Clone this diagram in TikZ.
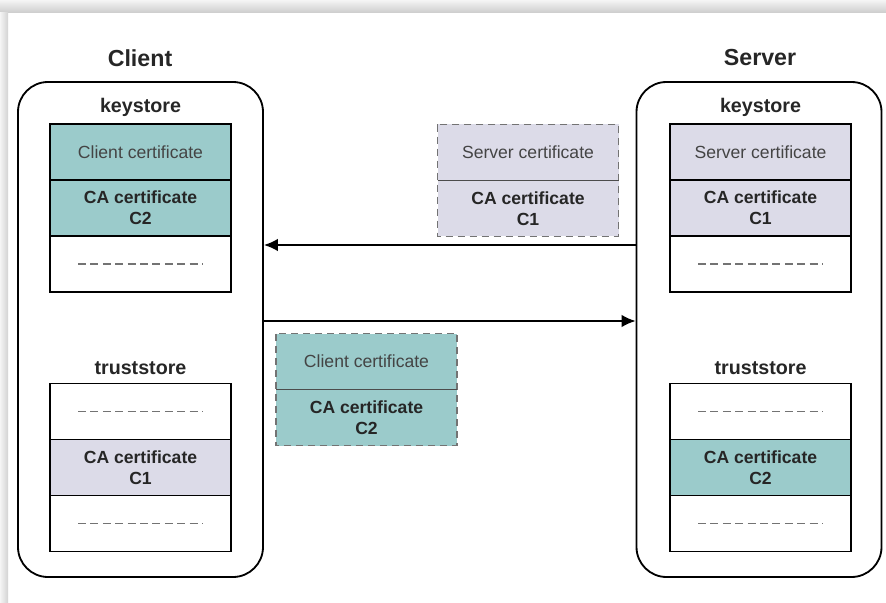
\documentclass[tikz,border=0pt]{standalone}
\usepackage{fontspec}
\setmainfont{Liberation Sans}
\usetikzlibrary{positioning,arrows.meta}

\definecolor{certteal}{RGB}{155,203,203}
\definecolor{certlila}{RGB}{220,219,232}
\definecolor{textgris}{RGB}{68,68,68}

\def\px{0.025cm}

\begin{document}
\begin{tikzpicture}[
    x=0.025cm, y=-0.025cm,
    font=\fontsize{12.5}{15}\selectfont,
    host/.style={rectangle, draw=black, line width=1.3pt, rounded corners=0.75cm, minimum width=245*\px, minimum height=495*\px, inner sep=0},
    fila/.style={rectangle, draw=black, line width=1.3pt, minimum width=181*\px, minimum height=56*\px, inner sep=0, outer sep=0, align=center},
    vacia/.style={fila, path picture={\draw[gray!90!black, line width=1.1pt, dash pattern=on 0.2cm off 0.11cm] ([xshift=0.7cm]path picture bounding box.west) -- ([xshift=-0.7cm]path picture bounding box.east);}},
    cert/.style={text=textgris},
    ca/.style={font=\fontsize{12.5}{15}\selectfont\bfseries, text=black!85},
    titulo/.style={font=\fontsize{16.5}{18}\selectfont\bfseries, text=black!85},
    almacen/.style={font=\fontsize{14}{16}\selectfont\bfseries, text=black!85},
    transito/.style={gray!90!black, line width=1.4pt, dash pattern=on 0.18cm off 0.12cm},
    flecha/.style={line width=1.3pt, -{Latex[length=10pt,width=9pt]}}
]
\useasboundingbox (0,0) rectangle (886,603);

% ============================================
% MARCO (sombra superior e izquierda)
% ============================================
\shade[top color=gray!8, bottom color=gray!40] (0,0) rectangle (886,13);
\shade[left color=gray!8, right color=gray!35] (0,13) rectangle (8,603);

% ============================================
% CLIENTE
% ============================================
\node[titulo] (ctit) at (140,58) {Client};
\node[host] (client) at (140.5,329.5) {};

% keystore del cliente
\node[almacen] (ckslab) at (140.5,107) {keystore};
\node[fila, fill=certteal, cert] (cks1) at (140.5,152) {Client certificate};
\node[fila, fill=certteal, ca, below=0pt of cks1] (cks2) {CA certificate\\C2};
\node[vacia, below=0pt of cks2] (cks3) {};

% truststore del cliente
\node[almacen] (ctrlab) at (140.5,368) {truststore};
\node[vacia] (ctr1) at (140.5,411.5) {};
\node[fila, fill=certlila, ca, below=0pt of ctr1] (ctr2) {CA certificate\\C1};
\node[vacia, below=0pt of ctr2] (ctr3) {};

% ============================================
% SERVIDOR
% ============================================
\node[titulo] (stit) at (760,58) {Server};
\node[host] (server) at (759,329.5) {};

% keystore del servidor
\node[almacen] (skslab) at (760.5,107) {keystore};
\node[fila, fill=certlila, cert] (sks1) at (760.5,152) {Server certificate};
\node[fila, fill=certlila, ca, below=0pt of sks1] (sks2) {CA certificate\\C1};
\node[vacia, below=0pt of sks2] (sks3) {};

% truststore del servidor
\node[almacen] (strlab) at (760.5,368) {truststore};
\node[vacia] (str1) at (760.5,411.5) {};
\node[fila, fill=certteal, ca, below=0pt of str1] (str2) {CA certificate\\C2};
\node[vacia, below=0pt of str2] (str3) {};

% ============================================
% CERTIFICADOS EN TRÁNSITO
% ============================================

% Servidor -> cliente
\node[fila, draw=none, fill=certlila, cert] (ts1) at (528,152.5) {Server certificate};
\node[fila, draw=none, fill=certlila, ca, below=0pt of ts1] (ts2) {CA certificate\\C1};
\draw[transito] (ts1.north west) rectangle (ts2.south east);
\draw[gray!60!black, line width=0.8pt] (ts1.south west) -- (ts1.south east);

% Cliente -> servidor
\node[fila, draw=none, fill=certteal, cert] (tc1) at (366.5,361.5) {Client certificate};
\node[fila, draw=none, fill=certteal, ca, below=0pt of tc1] (tc2) {CA certificate\\C2};
\draw[transito] (tc1.north west) rectangle (tc2.south east);
\draw[gray!60!black, line width=0.8pt] (tc1.south west) -- (tc1.south east);

% ============================================
% FLECHAS
% ============================================
\coordinate (ya) at (0,245);
\coordinate (yb) at (0,321);
\draw[flecha] (server.west |- ya) -- (client.east |- ya);
\draw[flecha] (client.east |- yb) -- (server.west |- yb);

\end{tikzpicture}
\end{document}
